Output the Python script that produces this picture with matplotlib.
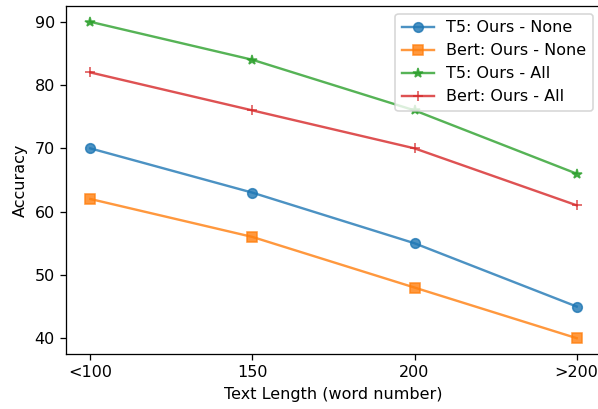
import matplotlib
matplotlib.use('Agg')
import matplotlib.pyplot as plt

lengths = ['<100', '150', '200', '>200']
t5_none = [70, 63, 55, 45]
bert_none = [62, 56, 48, 40]
t5_all = [90, 84, 76, 66]
bert_all = [82, 76, 70, 61]

dpi = 115
fig = plt.figure(figsize=(598 / dpi, 409 / dpi), dpi=dpi)
ax = fig.add_axes([66 / 598, 1 - 354 / 409, 535 / 598, 348 / 409])

ax.plot(lengths, t5_none, marker='o', alpha=0.8, label='T5: Ours - None')
ax.plot(lengths, bert_none, marker='s', alpha=0.8, label='Bert: Ours - None')
ax.plot(lengths, t5_all, marker='*', alpha=0.8, label='T5: Ours - All')
ax.plot(lengths, bert_all, marker='+', alpha=0.8, label='Bert: Ours - All')

ax.set_xlabel('Text Length (word number)')
ax.set_ylabel('Accuracy')
ax.legend(loc='upper right')

fig.savefig('out.png', dpi=dpi)
